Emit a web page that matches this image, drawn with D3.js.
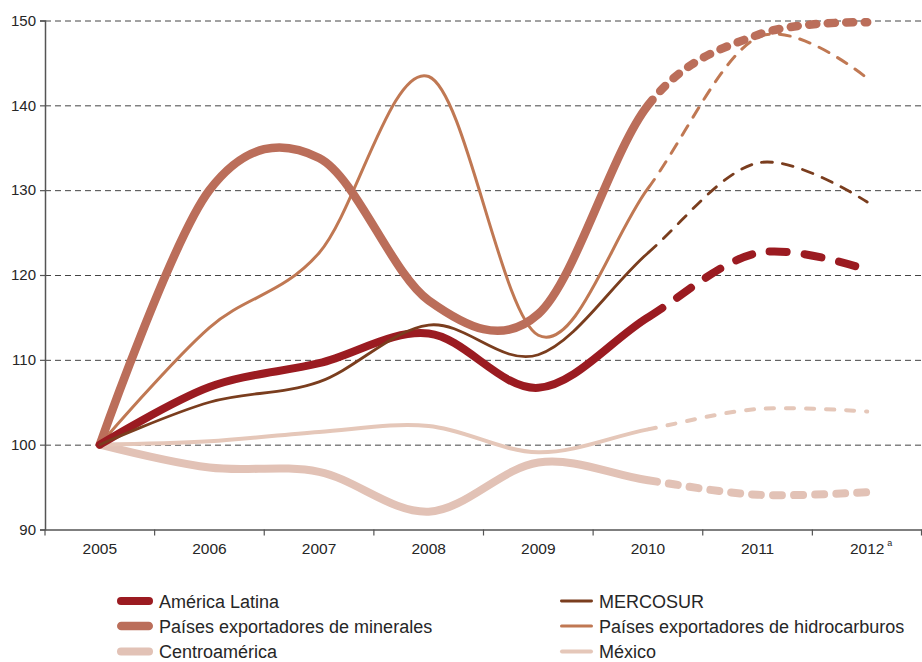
<!DOCTYPE html>
<html>
<head>
<meta charset="utf-8">
<script src="https://cdn.jsdelivr.net/npm/d3@7"></script>
<style>
  body { margin: 0; background: #fff; }
  text { font-family: "Liberation Sans", Arial, sans-serif; fill: #262626; }
</style>
</head>
<body>
<svg id="chart" width="922" height="662"></svg>
<script>
// data (index 2005 = 100)
const years = ['2005', '2006', '2007', '2008', '2009', '2010', '2011', '2012']
const yTicks = [90, 100, 110, 120, 130, 140, 150]
const americaLatina = [100, 106.8, 109.6, 113.1, 106.7, 115.0, 122.6, 120.6]
const mercosur = [100, 105.0, 107.4, 114.1, 110.6, 122.6, 133.2, 128.6]
const minerales = [100, 130.0, 133.8, 117.0, 115.4, 140.0, 148.3, 149.8]
const hidrocarburos = [100, 113.8, 122.6, 143.4, 112.9, 130.2, 148.0, 143.2]
const centroamerica = [100, 97.3, 96.8, 92.1, 97.9, 95.8, 94.1, 94.4]
const mexico = [100, 100.4, 101.5, 102.2, 99.1, 101.8, 104.2, 103.9]
const lastActual = '2010' // later years are projections (dashed)

const series = [
  { name: 'Centroamérica', values: centroamerica, color: '#e2c2b6', width: 8, dash: [9, 12], col: 0, row: 2 },
  { name: 'México', values: mexico, color: '#e5c7b9', width: 4, dash: [8, 12], col: 1, row: 2 },
  { name: 'Países exportadores de hidrocarburos', values: hidrocarburos, color: '#c07853', width: 3, dash: [11, 10], col: 1, row: 1 },
  { name: 'Países exportadores de minerales', values: minerales, color: '#bb6e5a', width: 8.5, dash: [7, 11.5], col: 0, row: 1 },
  { name: 'América Latina', values: americaLatina, color: '#9b1b21', width: 8, dash: [17, 18], col: 0, row: 0 },
  { name: 'MERCOSUR', values: mercosur, color: '#7a3d1e', width: 2.8, dash: [11, 10], col: 1, row: 0 }
]

const svg = d3.select('#chart')

const x = d3.scaleBand().domain(years).range([45, 922])
const y = d3.scaleLinear().domain([90, 150]).range([529.5, 20.5])
const cx = d => x(d) + x.bandwidth() / 2

// grid lines
svg.append('g')
  .selectAll('line')
  .data(yTicks.slice(1))
  .join('line')
  .attr('x1', 45).attr('x2', 922)
  .attr('y1', d => y(d) + 0.5).attr('y2', d => y(d) + 0.5)
  .attr('stroke', '#444')
  .attr('stroke-width', 1)
  .attr('stroke-dasharray', '6 4')

// y axis
const yAxis = svg.append('g')
  .attr('transform', 'translate(45,0)')
  .call(d3.axisLeft(y).tickValues(yTicks).tickSize(5).tickPadding(4))
yAxis.select('.domain').attr('stroke', '#555').attr('stroke-width', 1.5)
yAxis.selectAll('.tick line').attr('stroke', '#555').attr('stroke-width', 1.2)
yAxis.selectAll('.tick text').style('font-size', '15px').attr('fill', '#262626').attr('font-family', null)

// x axis: labels centred in bands, ticks on the band edges
const xAxis = svg.append('g')
  .attr('transform', 'translate(0,529.5)')
  .call(d3.axisBottom(x).tickSize(0).tickPadding(13))
xAxis.select('.domain').attr('stroke', '#555').attr('stroke-width', 1.5)
xAxis.selectAll('.tick text').style('font-size', '15.5px').attr('fill', '#262626').attr('font-family', null)
xAxis.selectAll('.edge')
  .data(years.map(d => x(d)).concat([x.range()[1] - 0.5]))
  .join('line')
  .attr('class', 'edge')
  .attr('x1', d => d).attr('x2', d => d)
  .attr('y1', 0).attr('y2', 6)
  .attr('stroke', '#555')
  .attr('stroke-width', 1.2)

// footnote mark on the last year
svg.append('text')
  .attr('x', cx('2012') + 20)
  .attr('y', 546)
  .style('font-size', '9px')
  .text('a')

// lines
const line = d3.line()
  .x((d, i) => cx(years[i]))
  .y(d => y(d))
  .curve(d3.curveCardinal.tension(0))

const splitX = cx(lastActual)

const paths = svg.append('g')
  .selectAll('path')
  .data(series)
  .join('path')
  .attr('d', d => line(d.values))
  .attr('fill', 'none')
  .attr('stroke', d => d.color)
  .attr('stroke-width', d => d.width)
  .attr('stroke-linecap', 'round')
  .attr('stroke-linejoin', 'round')

// solid up to the last actual year, then dashed
paths.each(function (d) {
  const total = this.getTotalLength()
  let lo = 0
  let hi = total
  for (let k = 0; k < 40; k++) {
    const mid = (lo + hi) / 2
    if (this.getPointAtLength(mid).x < splitX) lo = mid
    else hi = mid
  }
  const dashes = [lo, 0]
  let s = lo
  while (s < total) {
    dashes.push(d.dash[0], d.dash[1])
    s += d.dash[0] + d.dash[1]
  }
  d3.select(this).attr('stroke-dasharray', dashes.join(' '))
})

// legend
const legendX = [117, 560]
const legendW = [36, 33]
const legendY = [601, 626, 651.5]

const legend = svg.append('g')
  .selectAll('g')
  .data(series)
  .join('g')
  .attr('transform', d => `translate(${legendX[d.col]},${legendY[d.row]})`)

legend.append('line')
  .attr('x1', d => d.width / 2)
  .attr('x2', d => legendW[d.col] - d.width / 2)
  .attr('stroke', d => d.color)
  .attr('stroke-width', d => d.width)
  .attr('stroke-linecap', 'round')

legend.append('text')
  .attr('x', d => legendW[d.col] + 6)
  .attr('y', 6.5)
  .style('font-size', '18px')
  .text(d => d.name)
</script>
</body>
</html>
